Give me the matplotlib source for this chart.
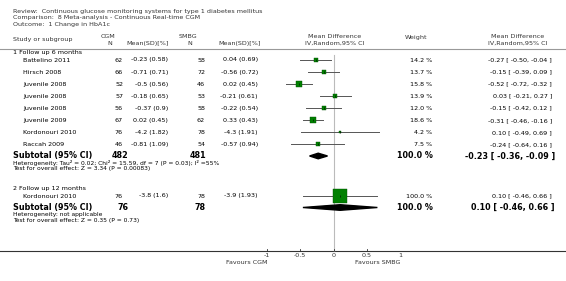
import matplotlib.pyplot as plt
from matplotlib.patches import Polygon

# study rows, group 1 (follow up 6 months)
studies1 = ['Battelino 2011', 'Hirsch 2008', 'Juvenile 2008', 'Juvenile 2008',
            'Juvenile 2008', 'Juvenile 2009', 'Kordonouri 2010', 'Raccah 2009']
n_cgm1 = [62, 66, 52, 57, 56, 67, 76, 46]
mean_cgm1 = [-0.23, -0.71, -0.5, -0.18, -0.37, 0.02, -4.2, -0.81]
sd_cgm1 = [0.58, 0.71, 0.56, 0.65, 0.9, 0.45, 1.82, 1.09]
n_smbg1 = [58, 72, 46, 53, 58, 62, 78, 54]
mean_smbg1 = [0.04, -0.56, 0.02, -0.21, -0.22, 0.33, -4.3, -0.57]
sd_smbg1 = [0.69, 0.72, 0.45, 0.61, 0.54, 0.43, 1.91, 0.94]
weight1 = [14.2, 13.7, 15.8, 13.9, 12.0, 18.6, 4.2, 7.5]
md1 = [-0.27, -0.15, -0.52, 0.03, -0.15, -0.31, 0.10, -0.24]
lo1 = [-0.50, -0.39, -0.72, -0.21, -0.42, -0.46, -0.49, -0.64]
hi1 = [-0.04, 0.09, -0.32, 0.27, 0.12, -0.16, 0.69, 0.16]
sub1 = dict(n_cgm=482, n_smbg=481, md=-0.23, lo=-0.36, hi=-0.09)
het1 = 'Heterogeneity: Tau² = 0.02; Chi² = 15.59, df = 7 (P = 0.03); I² =55%'
test1 = 'Test for overall effect: Z = 3.34 (P = 0.00083)'

# group 2 (follow up 12 months)
studies2 = ['Kordonouri 2010']
n_cgm2 = [76]
mean_cgm2 = [-3.8]
sd_cgm2 = [1.6]
n_smbg2 = [78]
mean_smbg2 = [-3.9]
sd_smbg2 = [1.93]
weight2 = [100.0]
md2 = [0.10]
lo2 = [-0.46]
hi2 = [0.66]
sub2 = dict(n_cgm=76, n_smbg=78, md=0.10, lo=-0.46, hi=0.66)
het2 = 'Heterogeneity: not applicable'
test2 = 'Test for overall effect: Z = 0.35 (P = 0.73)'

ticks = [-1, -0.5, 0, 0.5, 1]
tick_labels = ['-1', '-0.5', '0', '0.5', '1']

W, H = 566, 281
fig = plt.figure(figsize=(W / 100, H / 100), dpi=100)
bg = fig.add_axes([0, 0, 1, 1])
bg.set_xlim(0, W)
bg.set_ylim(H, 0)
bg.axis('off')
ax = fig.add_axes([267 / W, 0, 133 / W, 1])
ax.set_xlim(-1, 1)
ax.set_ylim(H, 0)
ax.axis('off')
ax.patch.set_alpha(0)

fs = 4.6
fs_note = 4.35
fs_bold = 5.8
grey = '#333333'
green = '#008000'

def t(x, y, s, ha='left', size=fs, bold=False, color='black'):
    bg.text(x, y, s, ha=ha, va='center', fontsize=size, color=color,
            fontweight='bold' if bold else 'normal', family='DejaVu Sans')

# title block
t(13, 11.5, 'Review:  Continuous glucose monitoring systems for type 1 diabetes mellitus', color=grey)
t(13, 18, 'Comparison:  8 Meta-analysis - Continuous Real-time CGM', color=grey)
t(13, 24.5, 'Outcome:  1 Change in HbA1c', color=grey)

# column headers
t(13, 39, 'Study or subgroup', color=grey)
t(108, 37, 'CGM', ha='center', color=grey)
t(110, 43.5, 'N', ha='center', color=grey)
t(148, 43.5, 'Mean(SD)[%]', ha='center', color=grey)
t(188, 37, 'SMBG', ha='center', color=grey)
t(190, 43.5, 'N', ha='center', color=grey)
t(240, 43.5, 'Mean(SD)[%]', ha='center', color=grey)
t(335, 37, 'Mean Difference', ha='center', color=grey)
t(335, 43.5, 'IV,Random,95% CI', ha='center', color=grey)
t(416, 37, 'Weight', ha='center', color=grey)
t(518, 37, 'Mean Difference', ha='center', color=grey)
t(518, 43.5, 'IV,Random,95% CI', ha='center', color=grey)
bg.plot([0, W], [48.5, 48.5], color='#999999', lw=0.8)

row_h = 12.07

def group(y0, label, studies, n1, m1, s1, n2, m2, s2, w, md, lo, hi, sub, het, test):
    t(13, y0, label)
    ys = [y0 + 7.5 + i * row_h for i in range(len(studies))]
    for i, y in enumerate(ys):
        t(23, y, studies[i])
        t(123, y, str(n1[i]), ha='right')
        t(168, y, f'{m1[i]:g} ({s1[i]:g})', ha='right')
        t(205, y, str(n2[i]), ha='right')
        t(258, y, f'{m2[i]:g} ({s2[i]:g})', ha='right')
        t(432, y, f'{w[i]:.1f} %', ha='right')
        t(552, y, f'{md[i]:.2f} [ {lo[i]:.2f}, {hi[i]:.2f} ]', ha='right')
        ax.plot([lo[i], hi[i]], [y, y], color='#555555', lw=0.7)
        ax.scatter([md[i]], [y], s=88 * w[i] / 100, marker='s', color=green,
                   edgecolors='#005000', linewidths=0.3, zorder=3)
        ax.scatter([md[i]], [y], s=4, marker='|', color='black', linewidths=0.4, zorder=4)
    ys_sub = ys[-1] + 11.5
    t(13, ys_sub, 'Subtotal (95% CI)', size=fs_bold, bold=True)
    t(128, ys_sub, str(sub['n_cgm']), ha='right', size=fs_bold, bold=True)
    t(206, ys_sub, str(sub['n_smbg']), ha='right', size=fs_bold, bold=True)
    t(433, ys_sub, '100.0 %', ha='right', size=fs_bold, bold=True)
    t(555, ys_sub, f"{sub['md']:.2f} [ {sub['lo']:.2f}, {sub['hi']:.2f} ]",
      ha='right', size=fs_bold, bold=True)
    d = 2.8
    ax.add_patch(Polygon([(sub['lo'], ys_sub), (sub['md'], ys_sub - d),
                          (sub['hi'], ys_sub), (sub['md'], ys_sub + d)],
                         closed=True, color='black', zorder=3))
    t(13, ys_sub + 7, het, size=fs_note)
    t(13, ys_sub + 13, test, size=fs_note)

group(52.5, '1 Follow up 6 months', studies1, n_cgm1, mean_cgm1, sd_cgm1,
      n_smbg1, mean_smbg1, sd_smbg1, weight1, md1, lo1, hi1, sub1, het1, test1)
group(188.5, '2 Follow up 12 months', studies2, n_cgm2, mean_cgm2, sd_cgm2,
      n_smbg2, mean_smbg2, sd_smbg2, weight2, md2, lo2, hi2, sub2, het2, test2)

# zero line and axis
ax.plot([0, 0], [55, 251], color='#bbbbbb', lw=0.8, zorder=1)
bg.plot([0, W], [251, 251], color='#333333', lw=0.8)
for tk, lab in zip(ticks, tick_labels):
    ax.plot([tk, tk], [249, 251], color='#333333', lw=0.6)
    ax.text(tk, 255.5, lab, ha='center', va='center', fontsize=fs, color=grey)
ax.text(-1, 262, 'Favours CGM', ha='right', va='center', fontsize=fs, color=grey)
ax.text(1, 262, 'Favours SMBG', ha='right', va='center', fontsize=fs, color=grey)

fig.savefig('out.png', dpi=100)
